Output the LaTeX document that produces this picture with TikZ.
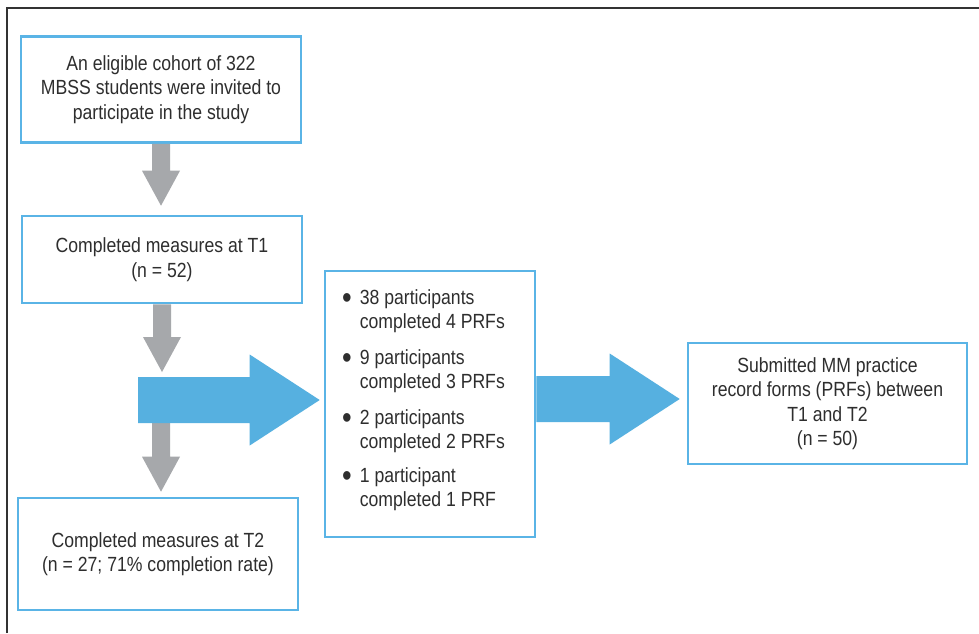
\documentclass[tikz,border=0pt]{standalone}
\usepackage{fontspec}
\setmainfont{Liberation Sans}[FakeStretch=0.86]
\usetikzlibrary{calc}
\definecolor{bborder}{HTML}{5AB4E6}
\definecolor{bfill}{HTML}{56B0E0}
\definecolor{gfill}{HTML}{A6A8AB}
\definecolor{txt}{HTML}{2E2E2E}
\definecolor{frame}{HTML}{333333}
\tikzset{
  box/.style={draw=bborder, line width=2.6pt, fill=white, inner sep=0pt, align=center, text=txt, font=\fontsize{20.5}{24.5}\selectfont},
  item/.style={anchor=west, inner sep=0pt, align=left, text=txt, font=\fontsize{20.5}{24}\selectfont},
  garrow/.style={fill=gfill},
  barrow/.style={fill=bfill},
}
\newcommand\bigbul{\raisebox{-4pt}{\fontsize{32}{24}\selectfont •}}
% vertical fat arrow from #1 (start) to #2 (tip)
\newcommand\gdownarrow[2]{%
  \fill[garrow] let \p1=(#1), \p2=(#2) in
    (\x1-9pt,\y1) -- (\x1-9pt,\y2+35pt) -- (\x1-19pt,\y2+35pt) -- (\x1,\y2)
    -- (\x1+19pt,\y2+35pt) -- (\x1+9pt,\y2+35pt) -- (\x1+9pt,\y1) -- cycle;}
% horizontal fat arrow from #1 (start) to #2 (tip)
\newcommand\brightarrow[2]{%
  \fill[barrow] let \p1=(#1), \p2=(#2) in
    (\x1,\y2+23pt) -- (\x2-70pt,\y2+23pt) -- (\x2-70pt,\y2+45.5pt) -- (\x2,\y2)
    -- (\x2-70pt,\y2-45.5pt) -- (\x2-70pt,\y2-23pt) -- (\x1,\y2-23pt) -- cycle;}
\begin{document}
\begin{tikzpicture}[x=1pt,y=-1pt]
\useasboundingbox (0,0) rectangle (979,633);
\fill[white] (0,0) rectangle (979,633);
\draw[frame, line width=1.6pt] (7,633) -- (7,8) -- (979,8);

\node[box, minimum width=280pt, minimum height=106pt] (b1) at (161,89.5)
  {An eligible cohort of 322\\MBSS students were invited to\\participate in the study};
\node[box, minimum width=280pt, minimum height=87pt] (b2) at (162,259.5)
  {Completed measures at T1\\(n = 52)};
\node[box, minimum width=280pt, minimum height=112pt] (b3) at (158,554)
  {Completed measures at T2\\(n = 27; 71\% completion rate)};
\node[box, minimum width=210pt, minimum height=266pt] (mid) at (430,404) {};
\node[box, minimum width=279pt, minimum height=121pt] (res) at (827.5,403.5)
  {Submitted MM practice\\record forms (PRFs) between\\T1 and T2\\(n = 50)};

\node[item] (i1) at (342,311.5) {\begin{tabular}{@{}l@{\hspace{8pt}}l@{}}\bigbul&38 participants\\&completed 4 PRFs\end{tabular}};
\node[item] (i2) at (342,371.5) {\begin{tabular}{@{}l@{\hspace{8pt}}l@{}}\bigbul&9 participants\\&completed 3 PRFs\end{tabular}};
\node[item] (i3) at (342,431.5) {\begin{tabular}{@{}l@{\hspace{8pt}}l@{}}\bigbul&2 participants\\&completed 2 PRFs\end{tabular}};
\node[item] (i4) at (342,490) {\begin{tabular}{@{}l@{\hspace{8pt}}l@{}}\bigbul&1 participant\\&completed 1 PRF\end{tabular}};

\coordinate (bstart) at (138,400);
\coordinate (shaftlow) at (161,423);
\coordinate (t1) at ($(b2.north)+(0,-9)$);
\coordinate (t2) at (161,372);
\coordinate (t3) at ($(b3.north)+(3,-5)$);

\gdownarrow{b1.south}{t1}
\gdownarrow{b2.south}{t2}
\gdownarrow{shaftlow}{t3}
\brightarrow{bstart}{$(mid.west)+(-4,-4)$}
\brightarrow{mid.east}{$(res.west)+(-7,-4.5)$}
\end{tikzpicture}
\end{document}
